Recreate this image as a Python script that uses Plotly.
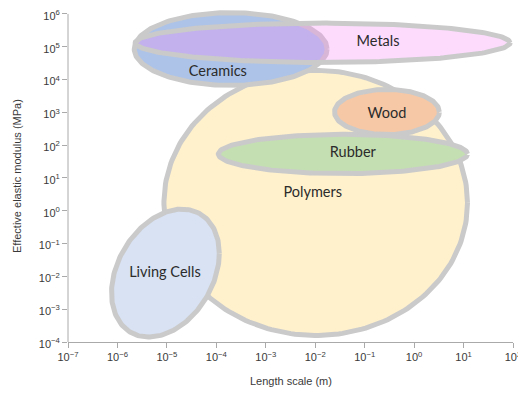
import numpy as np
import plotly.graph_objects as go

# material regions (log10 units)
materials = ["Polymers", "Wood", "Rubber", "Living Cells", "Ceramics", "Metals"]
center_x = [-1.99, -0.55, -1.44, -5.03, -3.71, -1.85]   # log10 length scale (m)
half_x = [3.07, 1.06, 2.52, 1.09, 1.95, 3.79]           # decades
center_y = [0.24, 3.01, 1.73, -1.90, 4.93, 5.12]         # log10 modulus (MPa)
half_y = [4.04, 0.69, 0.60, 1.95, 1.11, 0.60]            # decades
tilt = [90, 90, 90, 72, 90, 90]                          # phase, 90 = upright
label_x = [-2.05, -0.55, -1.24, -5.04, -3.97, -0.73]
label_y = [0.54, 2.93, 1.76, -1.90, 4.23, 5.12]

fills = ["#fff1cc", "#f6c8a6", "#c4dfb2", "#d8e2f3", "#adc3e7",
         "rgba(245,135,248,0.3)"]

x_ticks = list(range(-7, 3))
y_ticks = list(range(-4, 7))
x_ticktext = ["10<sup>" + str(k).replace("-", "\u2212") + "</sup>" for k in x_ticks]
y_ticktext = ["10<sup>" + str(k).replace("-", "\u2212") + "</sup>" for k in y_ticks]

y_top = 6.15  # a little headroom so the ceramics outline is not clipped

fig = go.Figure()
t = np.linspace(0, 2 * np.pi, 240)
for i, name in enumerate(materials):
    lx = center_x[i] + half_x[i] * np.cos(t)
    ly = center_y[i] + half_y[i] * np.cos(t - np.radians(tilt[i]))
    fig.add_trace(go.Scatter(
        x=10 ** lx, y=10 ** ly, mode="lines", fill="toself",
        fillcolor=fills[i], line=dict(color="#cacaca", width=5),
        hoverinfo="skip", showlegend=False))

fig.add_trace(go.Scatter(
    x=[10 ** v for v in label_x], y=[10 ** v for v in label_y],
    mode="text", text=materials,
    textfont=dict(family="Lato, Open Sans, sans-serif", size=14.5, color="#2b2b2b"),
    showlegend=False, hoverinfo="skip", cliponaxis=False))

tick_font = dict(family="Liberation Sans, Arial", size=11, color="#3a3a3a")
fig.update_xaxes(type="log", range=[-7, 2], tickvals=[10 ** k for k in x_ticks],
                 ticktext=x_ticktext, ticks="outside", ticklen=5, tickcolor="#aaa",
                 showline=True, linecolor="#aaa", linewidth=1, showgrid=False,
                 zeroline=False, tickfont=tick_font, automargin=False,
                 ticklabeloverflow="allow")
fig.update_yaxes(type="log", range=[-4, y_top], tickvals=[10 ** k for k in y_ticks],
                 ticktext=y_ticktext, ticks="outside", ticklen=5, tickcolor="#aaa",
                 showline=False, showgrid=False, zeroline=False, tickfont=tick_font,
                 automargin=False, ticklabeloverflow="allow", ticklabelshift=2)

# y axis line only up to 10^6
fig.add_shape(type="line", xref="paper", yref="paper", x0=0, x1=0,
              y0=0, y1=10 / (y_top + 4), line=dict(color="#aaa", width=1))

fig.add_annotation(text="Length scale (m)", xref="paper", yref="paper",
                   x=0.5, y=-39 / 333, showarrow=False, yanchor="middle",
                   font=tick_font)
fig.add_annotation(text="Effective elastic modulus (MPa)", xref="paper", yref="paper",
                   x=-51 / 445, y=(342 - 176) / 333, showarrow=False, textangle=-90,
                   xanchor="center", yanchor="middle", font=tick_font)

# the page body adds an 8px margin, so the figure is sized to fit inside it
fig.update_layout(width=518, height=379, margin=dict(l=60, r=13, t=1, b=45),
                  plot_bgcolor="white", paper_bgcolor="white")

fig.write_html("out.html")
